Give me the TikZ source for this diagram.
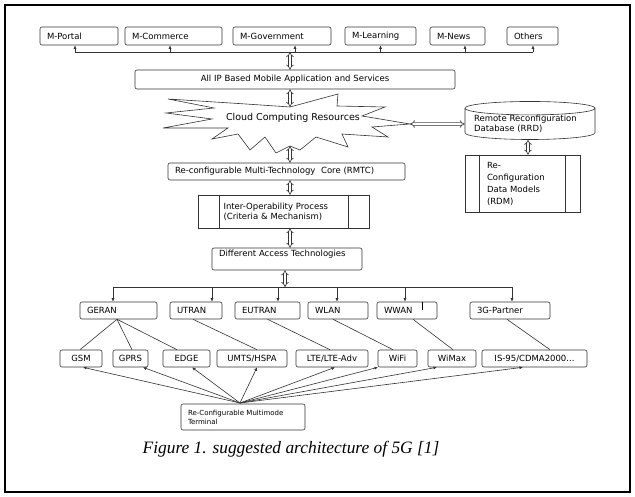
\documentclass[tikz,border=0pt]{standalone}
\usepackage{fontspec}
\setmainfont{Liberation Serif}
\newfontfamily\boxfont{DejaVu Sans}
\newcommand{\bx}{\boxfont\fontsize{8.5}{10}\selectfont}
\usetikzlibrary{arrows.meta,shapes.geometric}

\begin{document}
\begin{tikzpicture}[x=1pt,y=-1pt,
		ln/.style={draw=black!80, line width=0.6pt},
		box/.style={ln, rounded corners=2pt, inner xsep=7pt, inner ysep=0pt, font=\bx, align=left},
		sm/.style={box, align=center, inner xsep=1pt, minimum height=17pt},
		prc/.style={ln, inner ysep=0pt, font=\bx, align=left},
		tip/.style={ln, -{Latex[length=3.5pt,width=3pt]}},
		dbl/.style={ln, double, double distance=2pt, {Implies}-{Implies}}]
	\useasboundingbox (0,0) rectangle (635,497);
	\draw[line width=1.4pt] (5,5) rectangle (630,492);

	\node (Po) at (79,36) [box, text width=64pt, minimum height=18pt] {M-Portal};
	\node (Cm) at (173.5,36) [box, text width=83pt, minimum height=18pt] {M-Commerce};
	\node (Gv) at (282,36) [box, text width=84pt, minimum height=18pt] {M-Government};
	\node (Le) at (380.5,36) [box, text width=57pt, minimum height=18pt] {M-Learning};
	\node (Nw) at (457.5,36) [box, text width=41pt, minimum height=18pt] {M-News};
	\node (Ot) at (532.5,36) [box, text width=37pt, minimum height=18pt] {Others};
	\coordinate (Bu) at (75,52);
	\draw[ln] ([xshift=-4pt]Po.south |- Bu) -- ([xshift=0.5pt]Ot.south |- Bu);
	\draw[tip] ([xshift=-4pt]Po.south |- Bu) -- ([xshift=-4pt]Po.south);
	\draw[tip] ([xshift=-3.5pt]Cm.south |- Bu) -- ([xshift=-3.5pt]Cm.south);
	\draw[tip] ([xshift=13pt]Gv.south |- Bu) -- ([xshift=13pt]Gv.south);
	\draw[tip] (Le.south |- Bu) -- (Le.south);
	\draw[tip] ([xshift=7.5pt]Nw.south |- Bu) -- ([xshift=7.5pt]Nw.south);
	\draw[tip] ([xshift=0.5pt]Ot.south |- Bu) -- ([xshift=0.5pt]Ot.south);

	\node (Ai) at (295,79.5) [box, align=center, text width=306pt, minimum height=19pt] {All IP Based Mobile Application and Services};
	\draw[dbl] ([xshift=-5pt]Ai.north |- Bu) -- ([xshift=-5pt]Ai.north);

	\draw[ln, line join=miter] (290,107) -- (338,94) -- (337,106) -- (385,107) -- (362,116) -- (410,124)
		-- (372,127) -- (388,137) -- (342,134) -- (348,147) -- (316,137) -- (300,150) -- (290,146)
		-- (276,153) -- (265,137) -- (250,150) -- (238,134) -- (212,139) -- (228,128) -- (163,128)
		-- (212,119) -- (166,113) -- (214,108) -- (168,99) -- (246,104) -- cycle;
	\node (Cl) at (293,118) [font=\boxfont\fontsize{9.5}{11}\selectfont] {Cloud Computing Resources};
	\coordinate (Ct) at (290,107);
	\coordinate (Cb) at (290,146);
	\coordinate (Cr) at (410,124);
	\draw[dbl] ([xshift=-5pt]Ai.south) -- (Ct);

	\node (Db) at (530,124) [ln, cylinder, shape border rotate=90, aspect=0.12, minimum width=130pt, minimum height=35pt, inner sep=0pt, font=\bx, align=left, text width=112pt] {Remote Reconfiguration\\Database (RRD)};
	\draw[dbl] (Cr) -- (Db.west);
	\node (Dm) at (522.5,183.5) [prc, inner xsep=22pt, text width=71pt, minimum height=57pt, font=\boxfont\fontsize{8.5}{12}\selectfont] {Re-\\Configuration\\Data Models\\(RDM)};
	\draw[ln] ([xshift=15pt]Dm.north west) -- ([xshift=15pt]Dm.south west);
	\draw[ln] ([xshift=-15pt]Dm.north east) -- ([xshift=-15pt]Dm.south east);
	\draw[dbl] ([xshift=-2pt]Db.south) -- ([xshift=5.5pt]Dm.north);

	\node (Rc) at (286.5,171.5) [box, text width=223pt, minimum height=17pt] {Re-configurable Multi-Technology\ \ Core (RMTC)};
	\draw[dbl] (Cb) -- ([xshift=3.5pt]Rc.north);
	\node (Io) at (283.5,211.5) [prc, inner xsep=25.5pt, text width=120pt, minimum height=33pt] {Inter-Operability Process\\(Criteria \& Mechanism)};
	\draw[ln] ([xshift=22pt]Io.north west) -- ([xshift=22pt]Io.south west);
	\draw[ln] ([xshift=-21pt]Io.north east) -- ([xshift=-21pt]Io.south east);
	\draw[dbl] ([xshift=3.5pt]Rc.south) -- ([xshift=6.5pt]Io.north);
	\node (Df) at (287,259) [box, text width=136pt, text height=8pt, text depth=12pt, minimum height=22pt] {Different Access Technologies};
	\draw[dbl] ([xshift=6.5pt]Io.south) -- ([xshift=3pt]Df.north);

	\node (Ge) at (118.5,310.5) [box, text width=63pt, minimum height=17pt] {GERAN};
	\node (Ut) at (196,310.5) [box, text width=38pt, minimum height=17pt] {UTRAN};
	\node (Eu) at (267.5,310.5) [box, text width=51pt, minimum height=17pt] {EUTRAN};
	\node (Wl) at (338,310.5) [box, text width=46pt, minimum height=17pt] {WLAN};
	\node (Ww) at (407,310.5) [box, text width=46pt, minimum height=17pt] {WWAN};
	\node (Tg) at (510,310.5) [box, text width=66pt, minimum height=17pt] {3G-Partner};
	\draw[line width=1pt] ([xshift=15pt]Ww.north) -- ([xshift=15pt,yshift=-8pt]Ww.north);
	\coordinate (Bw) at (113,287);
	\draw[dbl] ([xshift=-2pt]Df.south) -- ([xshift=-2pt]Df.south |- Bw);
	\draw[ln] ([xshift=-5.5pt]Ge.north |- Bw) -- ([xshift=2pt]Tg.north |- Bw);
	\draw[tip] ([xshift=-5.5pt]Ge.north |- Bw) -- ([xshift=-5.5pt]Ge.north);
	\draw[tip] ([xshift=16pt]Ut.north |- Bw) -- ([xshift=16pt]Ut.north);
	\draw[tip] ([xshift=10.5pt]Eu.north |- Bw) -- ([xshift=10.5pt]Eu.north);
	\draw[tip] ([xshift=-1pt]Wl.north |- Bw) -- ([xshift=-1pt]Wl.north);
	\draw[tip] ([xshift=-2pt]Ww.north |- Bw) -- ([xshift=-2pt]Ww.north);
	\draw[tip] ([xshift=2pt]Tg.north |- Bw) -- ([xshift=2pt]Tg.north);

	\node (Gs) at (81,358.5) [sm, minimum width=42pt] {GSM};
	\node (Gp) at (130.5,358.5) [sm, minimum width=35pt] {GPRS};
	\node (Ed) at (186.5,358.5) [sm, minimum width=47pt] {EDGE};
	\node (Um) at (252,358.5) [sm, minimum width=70pt] {UMTS/HSPA};
	\node (Lt) at (332,358.5) [sm, minimum width=72pt] {LTE/LTE-Adv};
	\node (Wf) at (397.5,358.5) [sm, minimum width=39pt] {WiFi};
	\node (Wm) at (452,358.5) [sm, minimum width=48pt] {WiMax};
	\node (Is) at (534.5,358.5) [sm, minimum width=105pt] {IS-95/CDMA2000...};
	\draw[ln] ([xshift=-1.5pt]Ge.south) -- ([xshift=-1pt]Gs.north);
	\draw[ln] ([xshift=-1.5pt]Ge.south) -- ([xshift=1.5pt]Gp.north);
	\draw[ln] ([xshift=-1.5pt]Ge.south) -- ([xshift=-9.5pt]Ed.north);
	\draw[ln] ([xshift=-3pt]Ut.south) -- ([xshift=5pt]Um.north);
	\draw[ln] (Eu.south) -- ([xshift=-2pt]Lt.north);
	\draw[ln] ([xshift=-5pt]Wl.south) -- ([xshift=-4.5pt]Wf.north);
	\draw[ln] ([xshift=6pt]Ww.south) -- ([xshift=1pt]Wm.north);
	\draw[ln] ([xshift=-3pt]Tg.south) -- ([xshift=15.5pt]Is.north);

	\node (Tm) at (243,417) [box, text width=110pt, minimum height=26pt, font=\boxfont\fontsize{7}{9}\selectfont] {Re-Configurable Multimode\\Terminal};
	\coordinate (Hb) at (240,403);
	\draw[tip] (Hb) -- ([xshift=2pt]Gs.south);
	\draw[tip] (Hb) -- ([xshift=12.5pt]Gp.south);
	\draw[tip] (Hb) -- ([xshift=5.5pt]Ed.south);
	\draw[tip] (Hb) -- ([xshift=5pt]Um.south);
	\draw[tip] (Hb) -- ([xshift=3pt]Lt.south);
	\draw[tip] (Hb) -- ([xshift=-19.5pt]Wf.south);
	\draw[tip] (Hb) -- ([xshift=-15pt]Wm.south);
	\draw[tip] (Hb) -- ([xshift=-11.5pt]Is.south);

	\node (Fg) at (291,449) [font=\itshape\fontsize{17.4}{20}\selectfont] {Figure 1. suggested architecture of 5G [1]};
\end{tikzpicture}
\end{document}
